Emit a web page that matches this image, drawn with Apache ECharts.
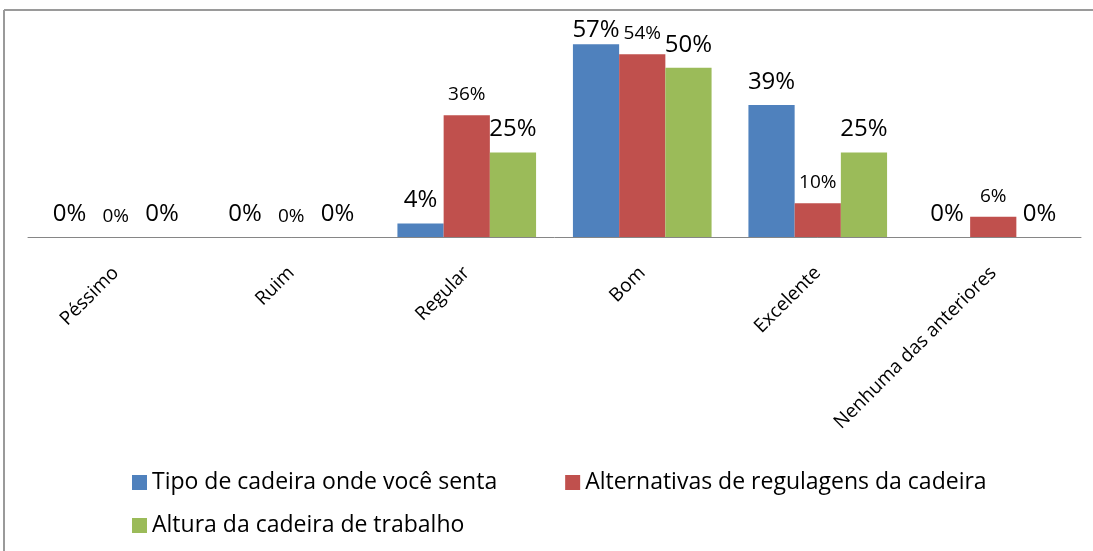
<!DOCTYPE html>
<html>
<head>
<meta charset="utf-8">
<script src="https://cdn.jsdelivr.net/npm/echarts@6/dist/echarts.min.js"></script>
<style>
  html, body { margin: 0; padding: 0; background: #ffffff; }
  #chart { width: 1093px; height: 551px; }
</style>
</head>
<body>
<div id="chart"></div>
<script>
// Avaliação da cadeira de trabalho (percentual de respostas)
const categories = ['Péssimo', 'Ruim', 'Regular', 'Bom', 'Excelente', 'Nenhuma das anteriores'];
const seriesNames = [
  'Tipo de cadeira onde você senta',
  'Alternativas de regulagens da cadeira',
  'Altura da cadeira de trabalho'
];
const tipoCadeira = [0, 0, 4, 57, 39, 0];
const regulagens = [0, 0, 36, 54, 10, 6];
const alturaCadeira = [0, 0, 25, 50, 25, 0];

const colors = ['#4F81BD', '#C0504D', '#9BBB59'];
const FONT = '"Open Sans", "DejaVu Sans", sans-serif';

// The tallest label is held close to its bar so it stays inside the plot
function withTopLabel(values) {
  const maxV = Math.max.apply(null, values);
  return values.map(v => v === maxV && v > 55 ? { value: v, label: { distance: 2 } } : v);
}

function barSeries(name, values, color, labelSize) {
  return {
    name: name,
    type: 'bar',
    data: withTopLabel(values),
    barGap: '0%',
    barCategoryGap: '21%',
    itemStyle: { color: color },
    label: {
      show: true,
      position: 'top',
      distance: 11,
      formatter: '{c}%',
      color: '#000000',
      fontFamily: FONT,
      fontSize: labelSize
    },
    emphasis: { disabled: true }
  };
}

const chart = echarts.init(document.getElementById('chart'), null, { renderer: 'canvas' });
chart.setOption({
  animation: false,
  backgroundColor: '#ffffff',
  grid: { left: 28, right: 12, top: 34, bottom: 314, containLabel: false },
  xAxis: {
    type: 'category',
    data: categories,
    axisLine: { lineStyle: { color: '#868686', width: 1 } },
    axisTick: { show: false },
    axisLabel: {
      interval: 0,
      rotate: 45,
      margin: 33,
      color: '#000000',
      fontFamily: FONT,
      fontSize: 19
    }
  },
  yAxis: {
    type: 'value',
    min: 0,
    max: 60,
    show: false,
    splitLine: { show: false }
  },
  legend: [
    {
      data: [seriesNames[0], seriesNames[1]],
      left: 127,
      top: 466,
      itemWidth: 15,
      itemHeight: 15,
      itemGap: 68,
      icon: 'rect',
      textStyle: { color: '#000000', fontFamily: FONT, fontSize: 23 }
    },
    {
      data: [seriesNames[2]],
      left: 127,
      top: 509,
      itemWidth: 15,
      itemHeight: 15,
      icon: 'rect',
      textStyle: { color: '#000000', fontFamily: FONT, fontSize: 23 }
    }
  ],
  graphic: [
    { type: 'line', shape: { x1: 4, y1: 10, x2: 1093, y2: 10 }, style: { stroke: '#9a9a9a', lineWidth: 2 } },
    { type: 'line', shape: { x1: 4, y1: 10, x2: 4, y2: 551 }, style: { stroke: '#9a9a9a', lineWidth: 2 } }
  ],
  series: [
    barSeries(seriesNames[0], tipoCadeira, colors[0], 24),
    barSeries(seriesNames[1], regulagens, colors[1], 19),
    barSeries(seriesNames[2], alturaCadeira, colors[2], 24)
  ]
});
</script>
</body>
</html>
